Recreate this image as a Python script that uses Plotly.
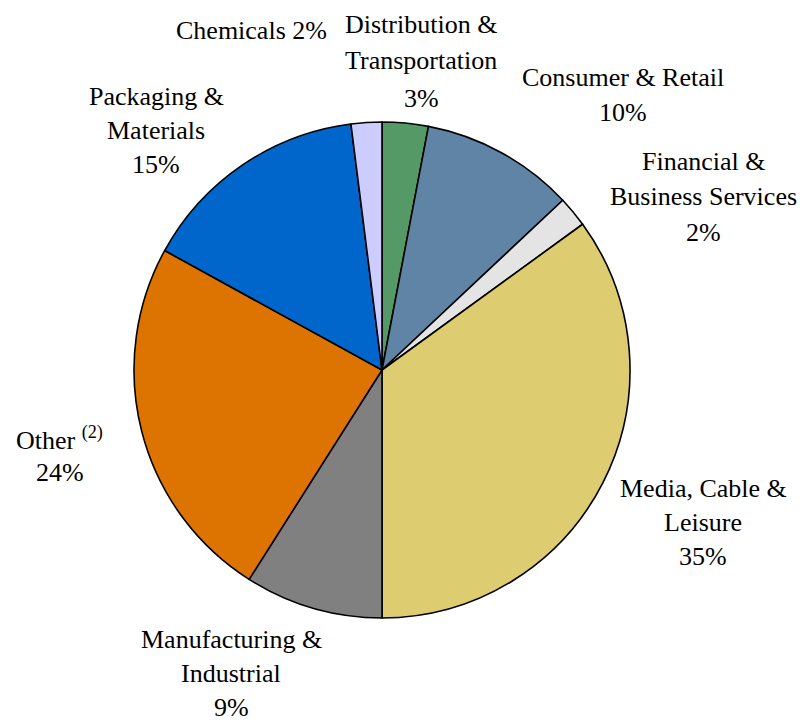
import plotly.graph_objects as go

W, H = 803, 722

sectors = ["Distribution & Transportation", "Consumer & Retail", "Financial & Business Services",
           "Media, Cable & Leisure", "Manufacturing & Industrial", "Other", "Packaging & Materials",
           "Chemicals"]
shares = [3, 10, 2, 35, 9, 24, 15, 2]
label_lines = [["Distribution &", "Transportation"], ["Consumer & Retail"], ["Financial &", "Business Services"],
               ["Media, Cable &", "Leisure"], ["Manufacturing &", "Industrial"], ["Other <sup>(2)</sup>"],
               ["Packaging &", "Materials"], ["Chemicals"]]
colors = ["#559966", "#5F84A5", "#E4E4E4", "#DDCC70", "#808080", "#DD7300", "#0066CC", "#CCCCFF"]

# label position (pixels): x center, y of first line, line spacing; pct inline or not
label_pos = [(421, 24, 37), (623, 78, 35), (703, 162, 35), (703, 488, 34), (231, 639, 34), (60, 438, 34),
             (156, 96, 34), (252, 30, 35)]
pct_inline = [False, False, False, False, False, False, False, True]

cx, cy, r = 382, 370, 248
FONT = dict(family="Liberation Serif", size=26, color="black")

fig = go.Figure(go.Pie(
    labels=sectors, values=shares, sort=False, direction="clockwise", rotation=0,
    marker=dict(colors=colors, line=dict(color="black", width=1.6)),
    textinfo="none", hoverinfo="label+percent", showlegend=False,
    domain=dict(x=[(cx - r) / W, (cx + r) / W], y=[1 - (cy + r) / H, 1 - (cy - r) / H]),
))

anns = []
for lines, v, (px, py, dy), inline in zip(label_lines, shares, label_pos, pct_inline):
    rows = list(lines)
    if inline:
        rows[-1] = f"{rows[-1]} {v}%"
    else:
        rows.append(f"{v}%")
    for i, row in enumerate(rows):
        anns.append(dict(x=px / W, y=1 - (py + i * dy) / H, xref="paper", yref="paper", text=row,
                         showarrow=False, xanchor="center", yanchor="middle", align="center", font=FONT))

fig.update_layout(width=W, height=H, margin=dict(l=0, r=0, t=0, b=0),
                  paper_bgcolor="white", plot_bgcolor="white", annotations=anns)
fig.write_html("out.html")
